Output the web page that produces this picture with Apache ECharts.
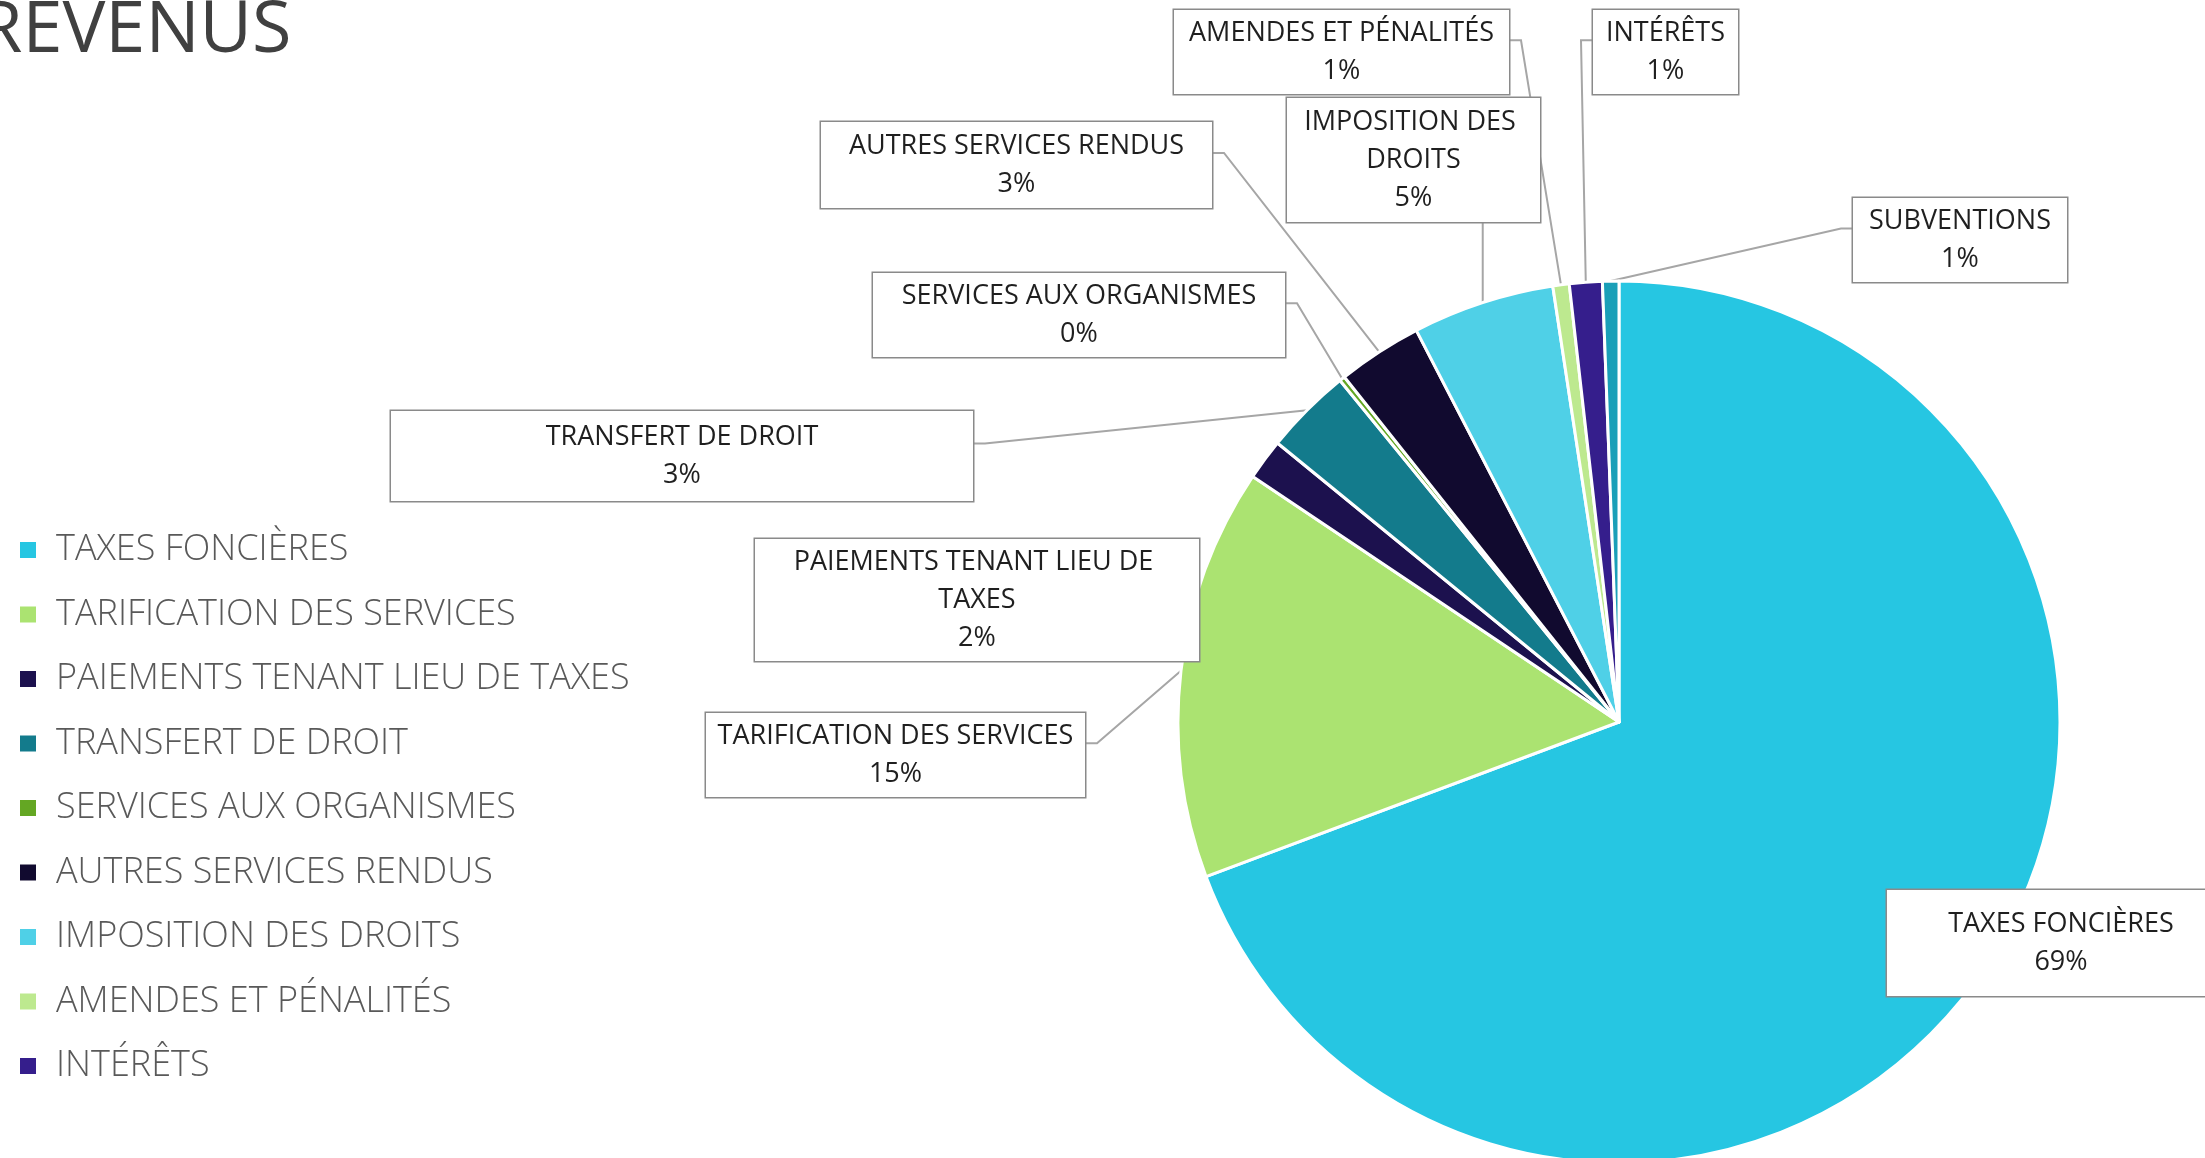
<!DOCTYPE html>
<html>
<head>
<meta charset="utf-8">
<title>Revenus</title>
<script src="https://cdn.jsdelivr.net/npm/echarts@6/dist/echarts.min.js"></script>
<style>
  html, body { margin: 0; padding: 0; background: #fff; }
  #chart { width: 2205px; height: 1158px; }
</style>
</head>
<body>
<div id="chart"></div>
<script>
// postes de revenus, dans l'ordre du graphique (sens horaire depuis midi)
var categories = ['TAXES FONCIÈRES', 'TARIFICATION DES SERVICES', 'PAIEMENTS TENANT LIEU DE TAXES',
  'TRANSFERT DE DROIT', 'SERVICES AUX ORGANISMES', 'AUTRES SERVICES RENDUS',
  'IMPOSITION DES DROITS', 'AMENDES ET PÉNALITÉS', 'INTÉRÊTS', 'SUBVENTIONS'];
// part de chaque poste (%)
var shares = [69.3, 15.1, 1.5, 3.2, 0.2, 3.1, 5.2, 0.6, 1.2, 0.6];
var colors = ['#26c6e2', '#abe371', '#1c114e', '#137b8c', '#64a723', '#110a2f',
  '#4fd0e7', '#bde98f', '#351e8c', '#1a9fb8'];
// la légende d'origine s'arrête avant SUBVENTIONS
var legendItems = categories.slice(0, 9);

// boîtes d'étiquettes placées à la main comme dans l'original
// side : r = trait depuis le bord droit, l = bord gauche, b = bas, n = pas de trait
var labelBoxes = [
  { left: 1887, top: 890, w: 348, h: 107, padX: 0, padY: 15, side: 'n' },
  { left: 706, top: 713, w: 379, h: 84, padX: 0, padY: 4, side: 'r' },
  { left: 755, top: 539, w: 444, h: 122, padX: 32, padY: 4, side: 'n' },
  { left: 391, top: 411, w: 582, h: 90, padX: 0, padY: 7, side: 'r' },
  { left: 873, top: 273, w: 412, h: 84, padX: 0, padY: 4, side: 'r' },
  { left: 821, top: 122, w: 391, h: 86, padX: 0, padY: 5, side: 'r' },
  { left: 1287, top: 98, w: 253, h: 124, padX: 8, padY: 5, side: 'b' },
  { left: 1174, top: 10, w: 335, h: 84, padX: 0, padY: 4, side: 'r' },
  { left: 1593, top: 10, w: 145, h: 84, padX: 0, padY: 4, side: 'l' },
  { left: 1853, top: 198, w: 214, h: 85, padX: 0, padY: 4, side: 'l' }
];

var total = shares.reduce(function (s, v) { return s + v; }, 0);

var pieData = categories.map(function (name, i) {
  var box = labelBoxes[i];
  return {
    name: name,
    value: shares[i],
    label: { padding: [box.padY, box.padX] },
    labelLine: { show: box.side !== 'n' }
  };
});

var myChart = echarts.init(document.getElementById('chart'));

var option = {
  animation: false,
  color: colors,
  title: {
    text: 'REVENUS',
    left: -27,
    top: -10,
    textStyle: { fontFamily: 'Open Sans', fontSize: 72, fontWeight: 'normal', color: '#404040' }
  },
  legend: {
    data: legendItems,
    orient: 'vertical',
    left: 13,
    top: 527,
    icon: 'rect',
    itemWidth: 18,
    itemHeight: 18,
    itemGap: 28.5,
    itemTextGap: 10,
    selectedMode: false,
    textStyle: {
      fontFamily: 'Open Sans', fontSize: 36, fontWeight: 300, color: '#595959', lineHeight: 36,
      padding: [0, 0, 0, 14]
    }
  },
  series: [{
    type: 'pie',
    center: [1619, 722],
    radius: 441,
    startAngle: 90,
    clockwise: true,
    avoidLabelOverlap: false,
    itemStyle: { borderColor: '#fff', borderWidth: 3 },
    label: {
      show: true,
      position: 'outside',
      formatter: function (p) {
        return p.name + '\n' + Math.round(p.value / total * 100) + '%';
      },
      fontFamily: 'Open Sans',
      fontSize: 27,
      lineHeight: 38,
      color: '#1f1f1f',
      backgroundColor: '#fff',
      borderColor: '#8a8a8a',
      borderWidth: 1.5,
      overflow: 'break'
    },
    labelLine: {
      show: true,
      length: 10,
      length2: 10,
      lineStyle: { color: '#a6a6a6', width: 2 }
    },
    labelLayout: function (params) {
      var b = labelBoxes[params.dataIndex];
      var out = {
        x: b.left + b.w / 2,
        y: b.top,
        align: 'center',
        verticalAlign: 'top',
        width: b.w - 2 * b.padX
      };
      var pts = params.labelLinePoints;
      if (pts && pts.length && b.side !== 'n') {
        var a = [pts[0][0], pts[0][1]];
        var ya = b.top + b.h * 0.36;
        if (b.side === 'r') {
          out.labelLinePoints = [a, [b.left + b.w + 12, ya], [b.left + b.w, ya]];
        } else if (b.side === 'l') {
          out.labelLinePoints = [a, [b.left - 12, ya], [b.left, ya]];
        } else {
          out.labelLinePoints = [a, [a[0], b.top + b.h]];
        }
      }
      return out;
    },
    data: pieData
  }]
};

myChart.setOption(option);
</script>
</body>
</html>
